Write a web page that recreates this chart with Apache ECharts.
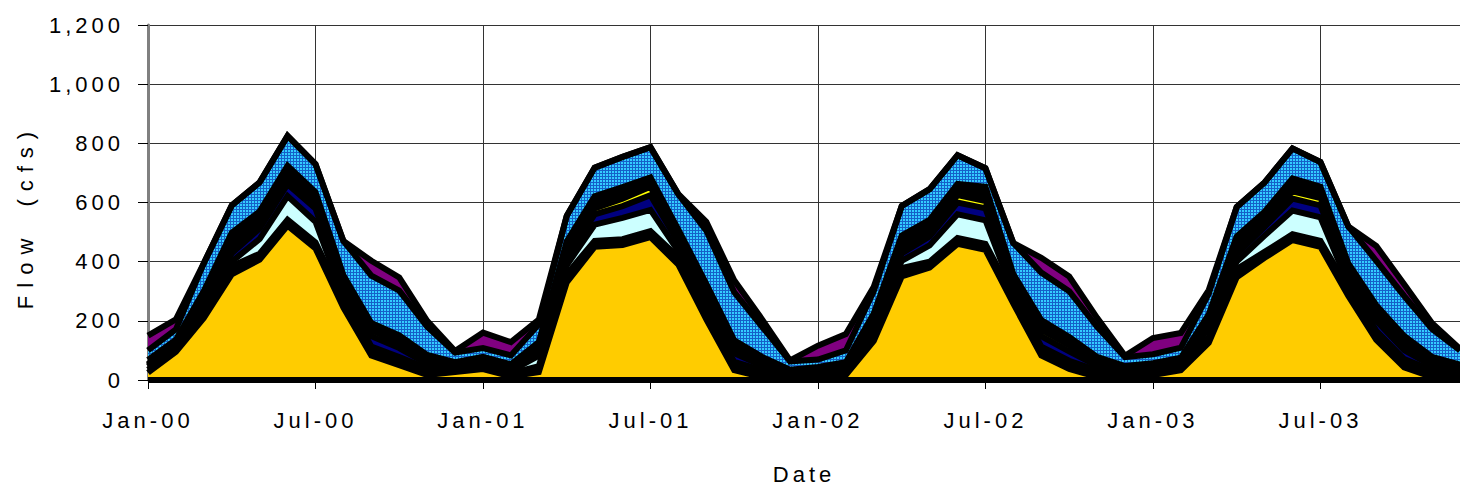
<!DOCTYPE html>
<html><head><meta charset="utf-8">
<script src="https://cdn.jsdelivr.net/npm/echarts@6/dist/echarts.min.js"></script>
<style>
html,body{margin:0;padding:0;background:#fff;}
#chart{width:1460px;height:490px;letter-spacing:4px;word-spacing:14px;}
#chart text[transform*="-1,1"], #chart text[transform*="-1 1"]{letter-spacing:8px;word-spacing:10px;}
</style></head><body><div id="chart"></div>
<script>
const categories = ['Jan-00','Feb-00','Mar-00','Apr-00','May-00','Jun-00','Jul-00','Aug-00','Sep-00','Oct-00','Nov-00','Dec-00',
 'Jan-01','Feb-01','Mar-01','Apr-01','May-01','Jun-01','Jul-01','Aug-01','Sep-01','Oct-01','Nov-01','Dec-01',
 'Jan-02','Feb-02','Mar-02','Apr-02','May-02','Jun-02','Jul-02','Aug-02','Sep-02','Oct-02','Nov-02','Dec-02',
 'Jan-03','Feb-03','Mar-03','Apr-03','May-03','Jun-03','Jul-03','Aug-03','Sep-03','Oct-03','Nov-03','Dec-03'];
const yTicks = [0,200,400,600,800,1000,1200];
const xTitle = 'Date';
const yTitle = 'Flow (cfs)';

const gold = [25,95,210,357,407,522,445,245,83,50,17,27, 37,12,27,330,450,456,483,390,205,33,10,5, 5,17,132,350,380,460,440,258,83,37,10,17, 17,33,126,347,413,473,450,284,136,43,10,10];
const blackLow = [10,10,20,28,20,20,20,25,20,20,15,8, 10,10,20,28,20,20,20,25,20,20,15,8, 10,10,20,28,20,20,20,25,20,20,15,8, 10,10,20,28,20,20,20,25,20,20,15,10];
const cyan = [10,10,15,15,50,80,70,12,10,8,8,6, 8,8,35,30,55,72,72,20,10,8,8,5, 8,10,25,25,55,80,80,12,10,8,8,5, 8,10,30,25,55,80,80,15,10,8,8,8];
const navy = [4,4,8,28,35,40,45,30,35,30,15,3, 3,3,8,25,35,40,50,30,35,30,15,3, 3,3,8,25,30,40,40,25,35,32,15,3, 3,3,8,25,30,40,40,28,35,30,15,4];
const yellow = [2,2,4,10,12,22,20,10,20,18,10,2, 2,2,4,10,20,25,28,12,20,18,10,2, 2,2,4,10,15,25,25,10,22,20,10,2, 2,2,4,10,15,25,25,12,22,20,10,2];
const pale = [3,3,4,5,6,8,7,5,5,5,5,2, 3,3,4,5,6,8,6,5,5,5,5,2, 3,3,4,5,6,8,8,5,8,8,5,2, 3,3,4,5,6,8,8,5,8,8,5,3];
const blackHigh = [14,12,40,55,40,32,28,27,20,20,15,12, 15,15,30,40,35,31,26,26,30,20,15,10, 13,15,32,45,35,30,40,23,25,20,15,10, 14,14,30,45,30,35,30,25,22,20,15,15];
const blue = [32,35,94,92,98,101,95,116,160,151,95,33, 30,30,60,87,97,102,102,120,180,163,102,28, 25,40,75,100,104,97,63,105,160,155,102,30, 30,34,70,100,99,102,84,125,150,135,94,48];
const purple = [50,34,0,0,0,0,0,0,50,45,20,5, 52,45,16,0,0,0,0,0,30,40,25,3, 47,55,15,0,0,0,0,0,50,50,30,5, 55,50,12,0,0,0,0,0,50,40,20,5];

function bluePattern(){
  const c = document.createElement('canvas');
  c.width = 3; c.height = 3;
  const g = c.getContext('2d');
  g.fillStyle = '#1560C8'; g.fillRect(0,0,3,3);
  g.fillStyle = '#33CCFF'; g.fillRect(0,0,2,2);
  return c;
}

const layers = [
  {name:'S1', data:gold, color:'#FFCC00'},
  {name:'S2', data:blackLow, color:'#000000'},
  {name:'S3', data:cyan, color:'#CCFFFF'},
  {name:'S4', data:navy, color:'#000080'},
  {name:'S5', data:yellow, color:'#FFFF00'},
  {name:'S6', data:pale, color:'#CCFFCC'},
  {name:'S7', data:blackHigh, color:'#000000'},
  {name:'S8', data:blue, color:{image:bluePattern(), repeat:'repeat', imageWidth:3, imageHeight:3}},
  {name:'S9', data:purple, color:'#800080'}
];

const font = "'Liberation Sans',Arial,sans-serif";
const series = [];
layers.forEach(function(l){
  series.push({type:'line', name:l.name, stack:'area', data:l.data, symbol:'none', silent:true, z:2,
    lineStyle:{width:0, opacity:0}, areaStyle:{color:l.color, opacity:1}});
});
layers.forEach(function(l, i){
  const s = {type:'line', name:l.name+'e', stack:'edge', data:l.data, symbol:'none', silent:true, z:3,
    lineStyle:{color:'#000', width:6, join:'miter', miterLimit:10}};
  if (i === 0) {
    s.markLine = {silent:true, symbol:'none', label:{show:false}, lineStyle:{color:'#000', width:6, type:'solid'}, data:[{yAxis:0}]};
  }
  series.push(s);
});

const chart = echarts.init(document.getElementById('chart'), null, {renderer:'svg'});
chart.setOption({
  animation:false,
  backgroundColor:'#fff',
  grid:{left:148, top:25, width:1316, height:362.7, containLabel:false},
  xAxis:{type:'category', data:categories, boundaryGap:false,
    axisLine:{show:true, lineStyle:{color:'#808080', width:2}},
    axisTick:{show:true, interval:5, length:9, lineStyle:{color:'#000'}},
    axisLabel:{interval:5, margin:29, fontSize:22, color:'#000', fontFamily:font},
    splitLine:{show:true, interval:5, lineStyle:{color:'#333', width:1}},
    name:xTitle, nameLocation:'middle', nameGap:83,
    nameTextStyle:{fontSize:22, color:'#000', fontFamily:font}},
  yAxis:{type:'value', min:yTicks[0], max:yTicks[yTicks.length-1], interval:200,
    axisLine:{show:true, lineStyle:{color:'#808080', width:3}},
    axisTick:{show:true, length:10, lineStyle:{color:'#000'}},
    axisLabel:{margin:24, fontSize:22, color:'#000', fontFamily:font,
      formatter:function(v){return v.toLocaleString('en-US');}},
    splitLine:{show:true, lineStyle:{color:'#333', width:1}},
    name:yTitle, nameLocation:'middle', nameGap:112, nameRotate:90,
    nameTextStyle:{fontSize:22, color:'#000', fontFamily:font, padding:[0,28,0,0]}},
  series:series
});
</script></body></html>
